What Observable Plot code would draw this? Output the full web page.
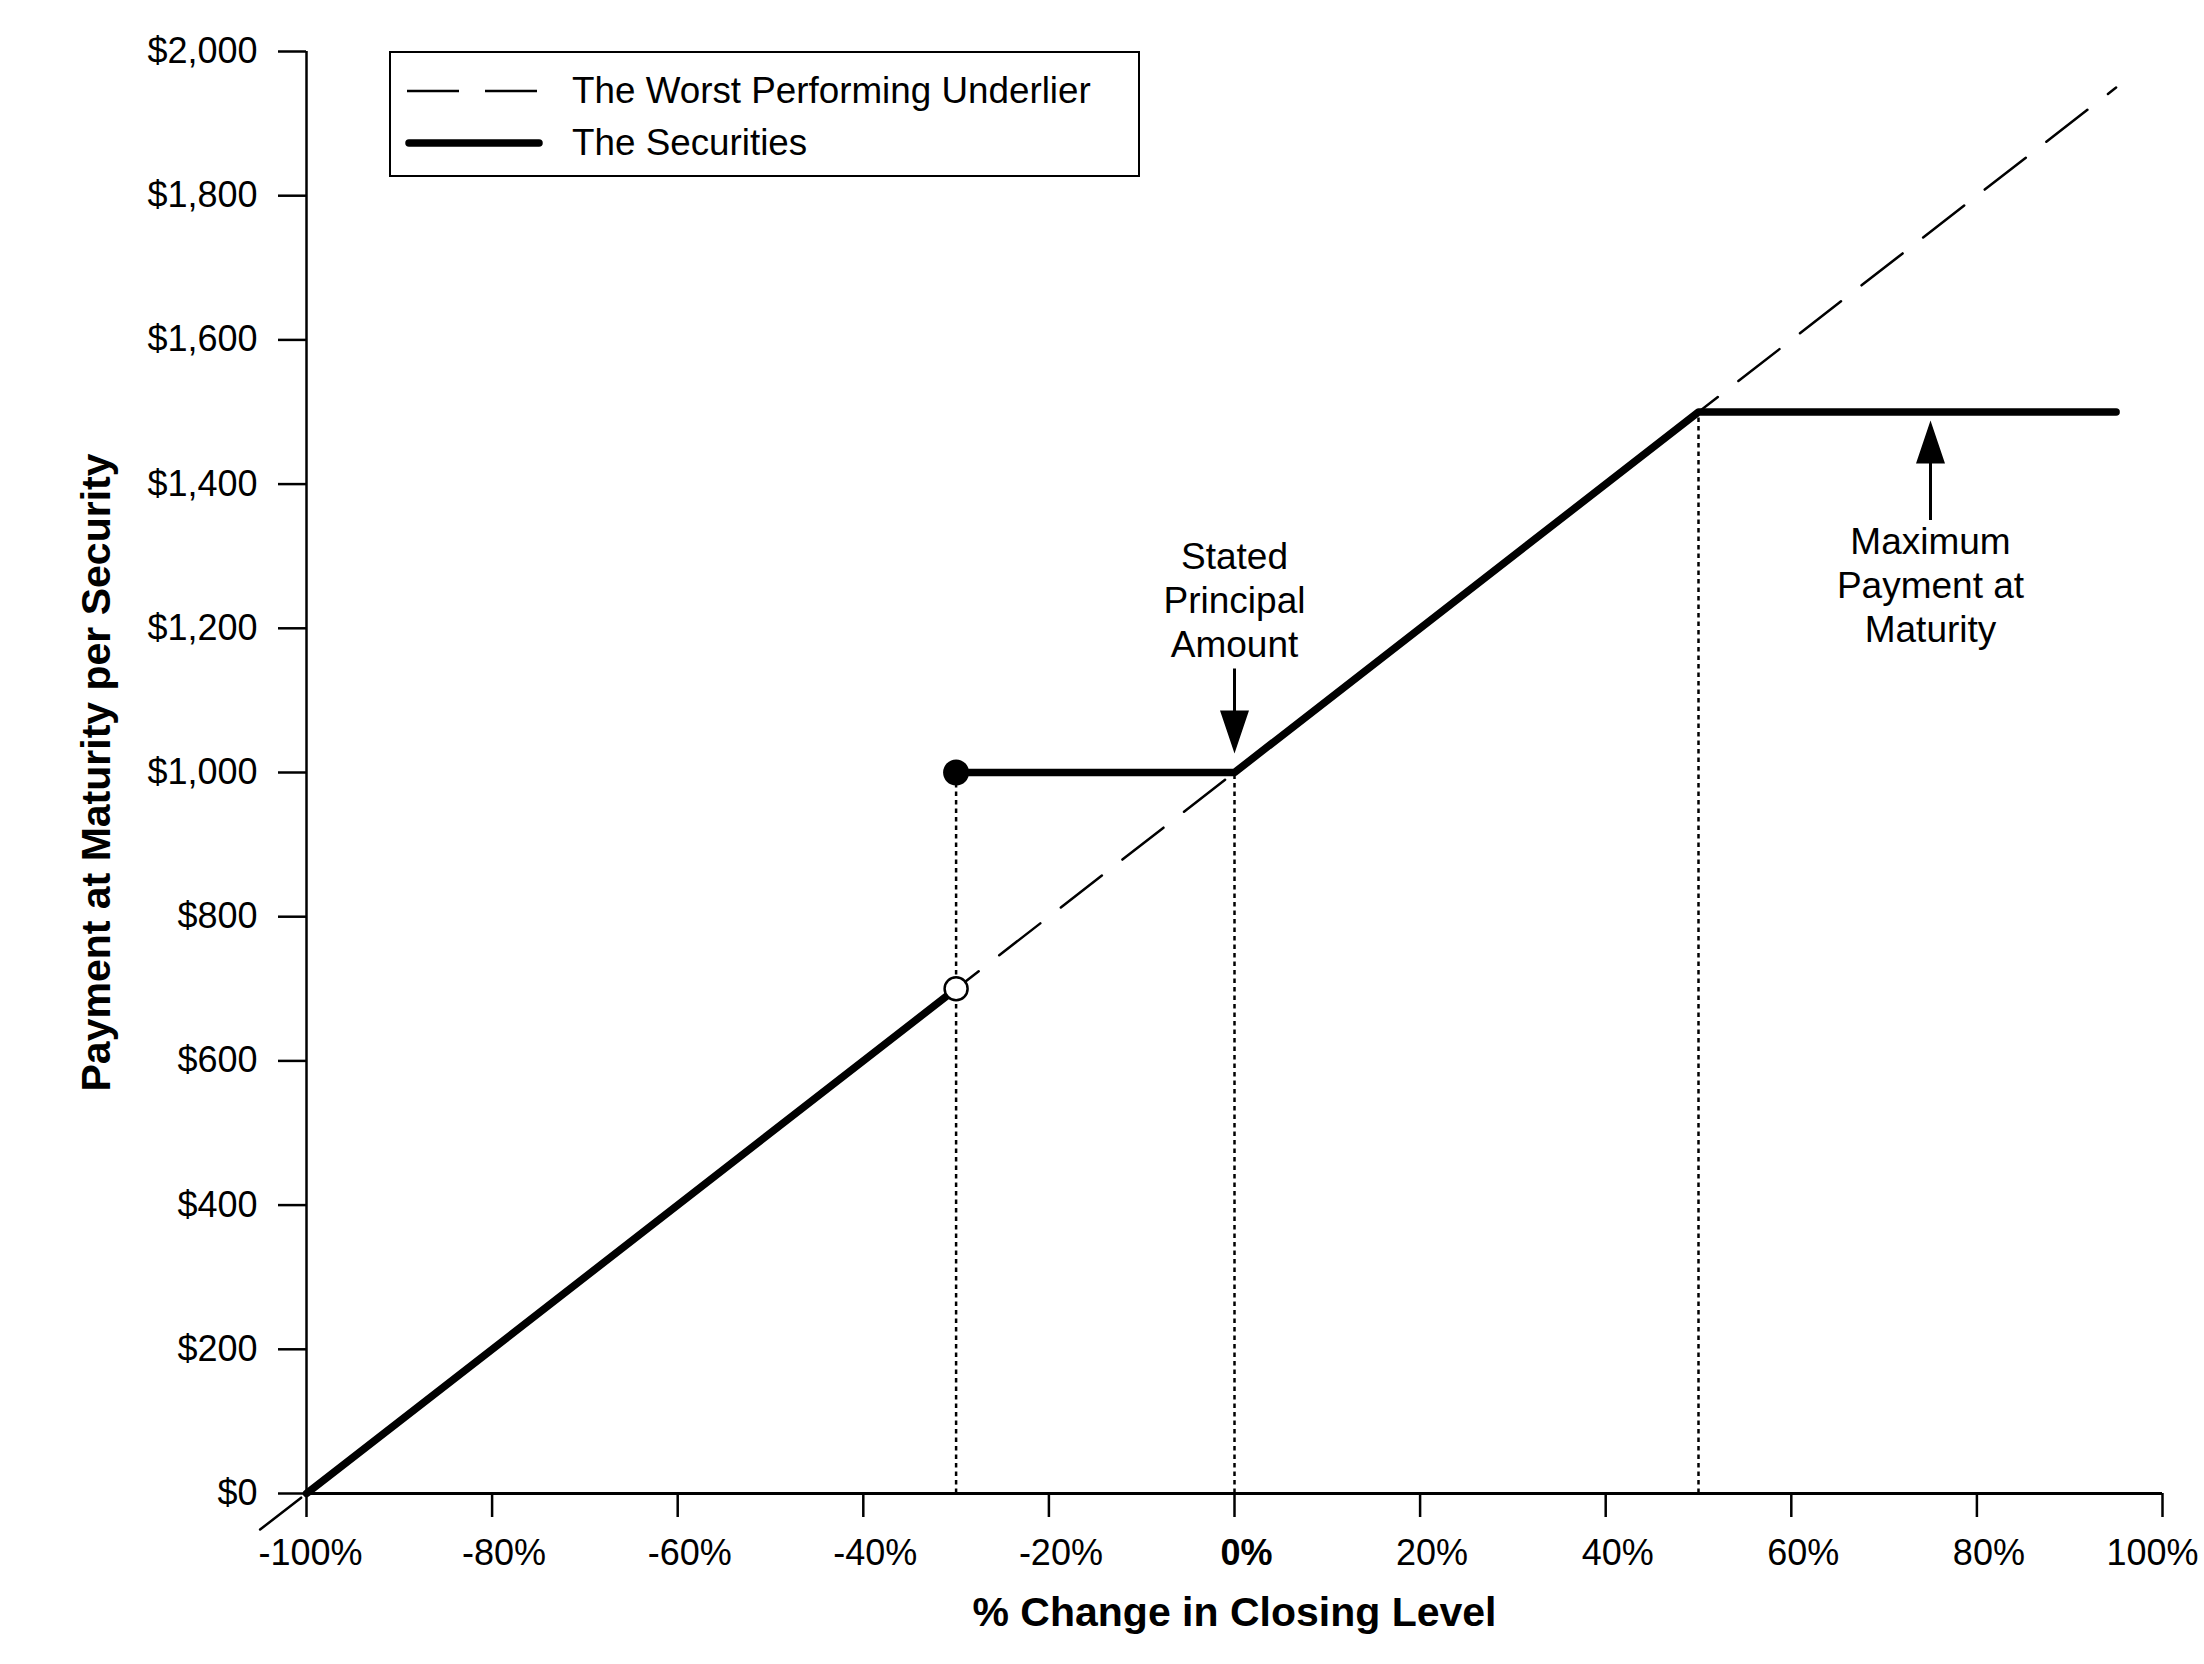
<!DOCTYPE html>
<html>
<head>
<meta charset="utf-8">
<script src="https://cdn.jsdelivr.net/npm/d3@7"></script>
<script src="https://cdn.jsdelivr.net/npm/@observablehq/plot@0.6"></script>
<style>
  html, body { margin: 0; padding: 0; background: #fff; }
  #wrap { position: relative; width: 2204px; height: 1664px; font-family: "Liberation Sans", Arial, sans-serif; color: #000; }
  #legend { position: absolute; left: 389px; top: 51px; width: 751px; height: 126px; box-sizing: border-box; border: 2.5px solid #000; background: #fff; }
  .row { position: absolute; left: 0; height: 0; }
  .row svg { position: absolute; left: 14px; top: -8px; }
  .row span { position: absolute; left: 181px; top: 0; transform: translateY(-50%); font-size: 36.8px; line-height: 1; white-space: nowrap; }
</style>
</head>
<body>
<div id="wrap">
  <div id="chart"></div>
  <div id="legend">
    <div class="row" style="top:38px">
      <svg width="140" height="16"><line x1="2" x2="133" y1="8" y2="8" stroke="#000" stroke-width="2.5" stroke-dasharray="52,26"/></svg>
      <span id="leg1"></span>
    </div>
    <div class="row" style="top:90px">
      <svg width="140" height="16"><line x1="4" x2="134" y1="8" y2="8" stroke="#000" stroke-width="7.5" stroke-linecap="round"/></svg>
      <span id="leg2"></span>
    </div>
  </div>
</div>
<script>
// ---- data ----
const xTicks = [-100, -80, -60, -40, -20, 0, 20, 40, 60, 80, 100];
const yTicks = [0, 200, 400, 600, 800, 1000, 1200, 1400, 1600, 1800, 2000];

const seriesNames = ["The Worst Performing Underlier", "The Securities"];

const underlierX = [-105, 95];
const underlierY = [-50, 1950];

const securitiesX = [-100, -30, -30, 0, 50, 95];
const securitiesY = [0, 700, 1000, 1000, 1500, 1500];
const securitiesPiece = ["loss", "loss", "buffer", "buffer", "buffer", "buffer"];

const dropX = [-30, 0, 50];
const dropY = [1000, 1000, 1500];

const openPointX = [-30];
const openPointY = [700];
const filledPointX = [-30];
const filledPointY = [1000];

const noteX = [0, 75];
const noteY = [1000, 1500];
const noteText = ["Stated\nPrincipal\nAmount", "Maximum\nPayment at\nMaturity"];

const xTitle = "% Change in Closing Level";
const yTitle = "Payment at Maturity per Security";

// ---- helpers ----
const idx = (a) => a.map((_, i) => i);
const fmtPct = (d) => `${d}%`;
const fmtUsd = (d) => "$" + d3.format(",")(d);
const first = xTicks[0], last = xTicks[xTicks.length - 1];
const innerTicks = xTicks.filter((d) => d !== first && d !== last && d !== 0);

// arrow glyphs (filled head + shaft), drawn relative to the anchor point
const arrowDown = { draw(ctx) {
  const tip = -19, head = 43, hw = 14.5, sw = 1.5, tail = -104;
  ctx.moveTo(0, tip); ctx.lineTo(-hw, tip - head); ctx.lineTo(-sw, tip - head);
  ctx.lineTo(-sw, tail); ctx.lineTo(sw, tail); ctx.lineTo(sw, tip - head);
  ctx.lineTo(hw, tip - head); ctx.closePath();
}};
const arrowUp = { draw(ctx) {
  const tip = 8.5, head = 43, hw = 14.5, sw = 1.5, tail = 108;
  ctx.moveTo(0, tip); ctx.lineTo(-hw, tip + head); ctx.lineTo(-sw, tip + head);
  ctx.lineTo(-sw, tail); ctx.lineTo(sw, tail); ctx.lineTo(sw, tip + head);
  ctx.lineTo(hw, tip + head); ctx.closePath();
}};

document.getElementById("leg1").textContent = seriesNames[0];
document.getElementById("leg2").textContent = seriesNames[1];

const tickLabel = (data, dx, weight) =>
  Plot.text(data, { x: (d) => d, text: fmtPct, frameAnchor: "bottom", dy: 60, dx, lineAnchor: "middle", textAnchor: "middle", fontSize: 36, fontWeight: weight, fill: "#000" });

const chart = Plot.plot({
  width: 2204,
  height: 1664,
  marginLeft: 306,
  marginRight: 42,
  marginTop: 51,
  marginBottom: 171,
  style: { fontFamily: "'Liberation Sans', Arial, sans-serif", fontSize: "36px", background: "#fff", color: "#000", overflow: "visible" },
  x: { domain: [-100, 100] },
  y: { domain: [0, 2000] },
  marks: [
    // underlier (dashed)
    Plot.line(idx(underlierX), { x: (i) => underlierX[i], y: (i) => underlierY[i], stroke: "#000", strokeWidth: 2.5, strokeDasharray: "52,26" }),
    // dotted drop lines
    Plot.ruleX(idx(dropX), { x: (i) => dropX[i], y1: 0, y2: (i) => dropY[i], stroke: "#000", strokeWidth: 2.5, strokeDasharray: "4.5,4" }),
    // securities (solid, thick)
    Plot.line(idx(securitiesX), { x: (i) => securitiesX[i], y: (i) => securitiesY[i], z: (i) => securitiesPiece[i], stroke: "#000", strokeWidth: 7.5, strokeLinecap: "round", strokeLinejoin: "round" }),
    // points
    Plot.dot(idx(openPointX), { x: (i) => openPointX[i], y: (i) => openPointY[i], r: 11.5, fill: "#fff", stroke: "#000", strokeWidth: 2.5 }),
    Plot.dot(idx(filledPointX), { x: (i) => filledPointX[i], y: (i) => filledPointY[i], r: 13, fill: "#000", stroke: "none" }),
    // annotation arrows
    Plot.dot([0], { x: (i) => noteX[i], y: (i) => noteY[i], symbol: arrowDown, r: 10, fill: "#000", stroke: "none" }),
    Plot.dot([1], { x: (i) => noteX[i], y: (i) => noteY[i], symbol: arrowUp, r: 10, fill: "#000", stroke: "none" }),
    // annotation texts
    Plot.text([0], { x: (i) => noteX[i], y: (i) => noteY[i], text: (i) => noteText[i], dy: -174, lineHeight: 1.19, fontSize: 37, fill: "#000" }),
    Plot.text([1], { x: (i) => noteX[i], y: (i) => noteY[i], text: (i) => noteText[i], dy: 172, lineHeight: 1.19, fontSize: 37, fill: "#000" }),
    // axes
    Plot.axisY(yTicks, { tickSize: 28, tickPadding: 21, tickFormat: fmtUsd, fontSize: 36, strokeWidth: 2.5, label: null }),
    Plot.axisX(xTicks, { tickSize: 24, tickPadding: 18, tickFormat: () => "", strokeWidth: 2.5, label: null }),
    tickLabel(innerTicks, 12, "normal"),
    tickLabel([first], 4, "normal"),
    tickLabel([last], -10, "normal"),
    tickLabel([0], 12, "bold"),
    Plot.ruleY([0], { stroke: "#000", strokeWidth: 3 }),
    Plot.ruleX([-100], { stroke: "#000", strokeWidth: 2.5 }),
    // axis titles
    Plot.text([xTitle], { frameAnchor: "bottom", dy: 119, lineAnchor: "middle", textAnchor: "middle", fontSize: 41, fontWeight: "bold", fill: "#000" }),
    Plot.text([yTitle], { frameAnchor: "left", dx: -210, rotate: -90, lineAnchor: "middle", textAnchor: "middle", fontSize: 41, fontWeight: "bold", fill: "#000" })
  ]
});
document.getElementById("chart").appendChild(chart);
</script>
</body>
</html>
